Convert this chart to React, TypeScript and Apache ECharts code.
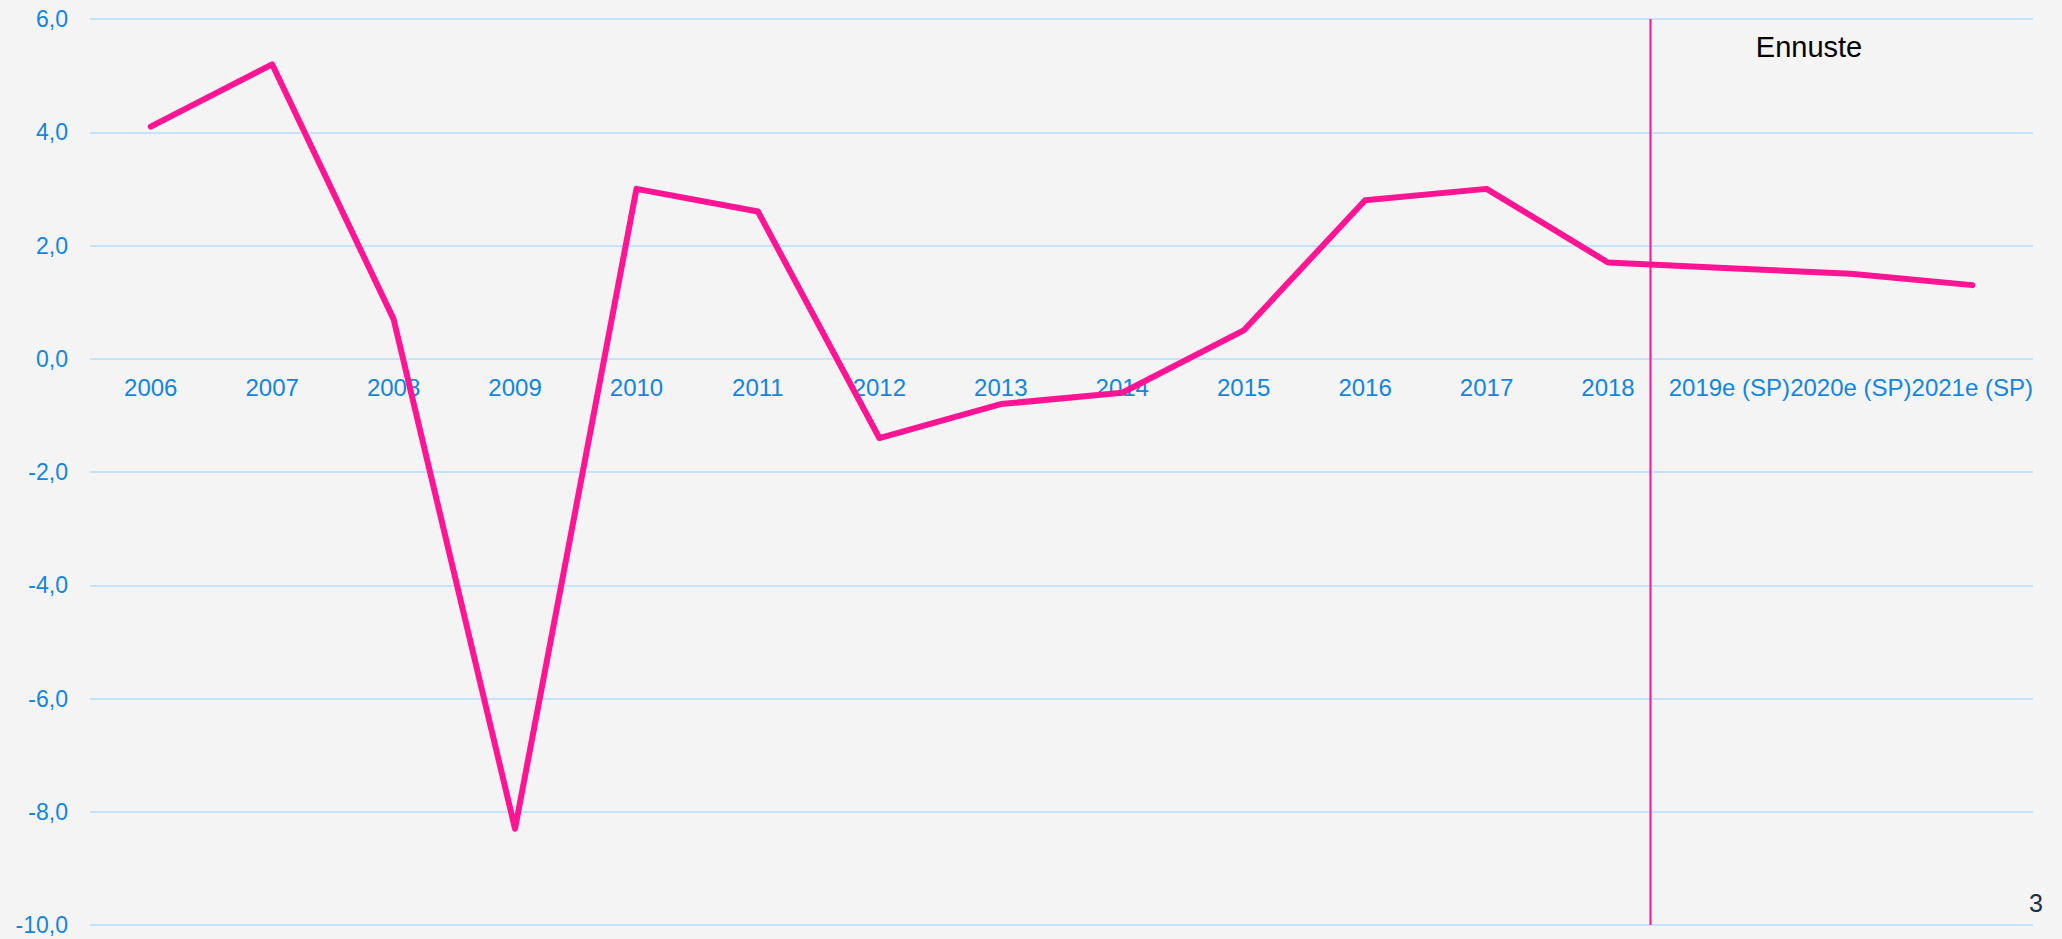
import React, { useEffect, useRef } from "react";
import * as echarts from "echarts";

const categories = [
  "2006", "2007", "2008", "2009", "2010", "2011", "2012", "2013",
  "2014", "2015", "2016", "2017", "2018", "2019e (SP)", "2020e (SP)", "2021e (SP)",
];
const values = [4.1, 5.2, 0.7, -8.3, 3.0, 2.6, -1.4, -0.8, -0.6, 0.5, 2.8, 3.0, 1.7, 1.6, 1.5, 1.3];
const forecastMarkerPosition = 12.35;
const forecastLabel = "Ennuste";
const pageNumber = "3";
const yMin = -10;
const yMax = 6;

export default function App() {
  const ref = useRef<HTMLDivElement>(null);
  useEffect(() => {
    document.body.style.margin = "0";
    document.body.style.background = "#f4f4f4";
    const chart = echarts.init(ref.current!, null, { renderer: "svg" });
    const H = 939;
    const gTop = 19, gBottom = 14, gLeft = 90, gRight = 29;
    const gHeight = H - gTop - gBottom;
    const zeroY = gTop + (gHeight * (yMax - 0)) / (yMax - yMin);
    const xOffset = -((H - gBottom) - zeroY);
    const font = "Liberation Sans, Arial, sans-serif";
    chart.setOption({
      animation: false,
      backgroundColor: "#f4f4f4",
      grid: { left: gLeft, right: gRight, top: gTop, bottom: gBottom, containLabel: false },
      xAxis: {
        type: "category",
        data: categories,
        boundaryGap: true,
        position: "bottom",
        offset: xOffset,
        axisLine: { show: false, onZero: false },
        axisTick: { show: false },
        axisLabel: {
          interval: 0,
          color: "#1185e0",
          fontSize: 24,
          fontFamily: font,
          margin: 17,
        },
        splitLine: { show: false },
      },
      yAxis: {
        type: "value",
        min: yMin,
        max: yMax,
        interval: 2,
        axisLine: { show: false },
        axisTick: { show: false },
        axisLabel: {
          color: "#1185e0",
          fontSize: 23,
          fontFamily: font,
          margin: 22,
          formatter: (v: number) => v.toFixed(1).replace(".", ","),
        },
        splitLine: { show: true, lineStyle: { color: "#c4e2fa", width: 2 } },
      },
      series: [
        {
          type: "line",
          data: values,
          symbol: "none",
          z: 3,
          lineStyle: { color: "#ff1493", width: 6, cap: "round", join: "round" },
        },
      ],
      graphic: [
        {
          id: "ennuste",
          type: "text",
          x: 1809,
          y: 47,
          style: {
            text: forecastLabel,
            fill: "#000000",
            fontSize: 29,
            fontFamily: font,
            align: "center",
            verticalAlign: "middle",
          },
        },
        {
          id: "page",
          type: "text",
          x: 2036,
          y: 903,
          style: {
            text: pageNumber,
            fill: "#17304d",
            fontSize: 25,
            fontFamily: font,
            align: "center",
            verticalAlign: "middle",
          },
        },
      ],
    });
    const i0 = Math.floor(forecastMarkerPosition);
    const p0 = chart.convertToPixel({ xAxisIndex: 0 }, i0) as number;
    const p1 = chart.convertToPixel({ xAxisIndex: 0 }, i0 + 1) as number;
    const mx = p0 + (forecastMarkerPosition - i0) * (p1 - p0);
    chart.setOption({
      graphic: [
        {
          id: "forecastLine",
          type: "line",
          z: 10,
          shape: { x1: mx, y1: gTop, x2: mx, y2: H - gBottom },
          style: { stroke: "#ff1493", lineWidth: 2 },
        },
      ],
    });
    return () => chart.dispose();
  }, []);
  return (
    <div
      ref={ref}
      style={{ position: "absolute", left: 0, top: 0, width: 2062, height: 939, background: "#f4f4f4" }}
    />
  );
}
